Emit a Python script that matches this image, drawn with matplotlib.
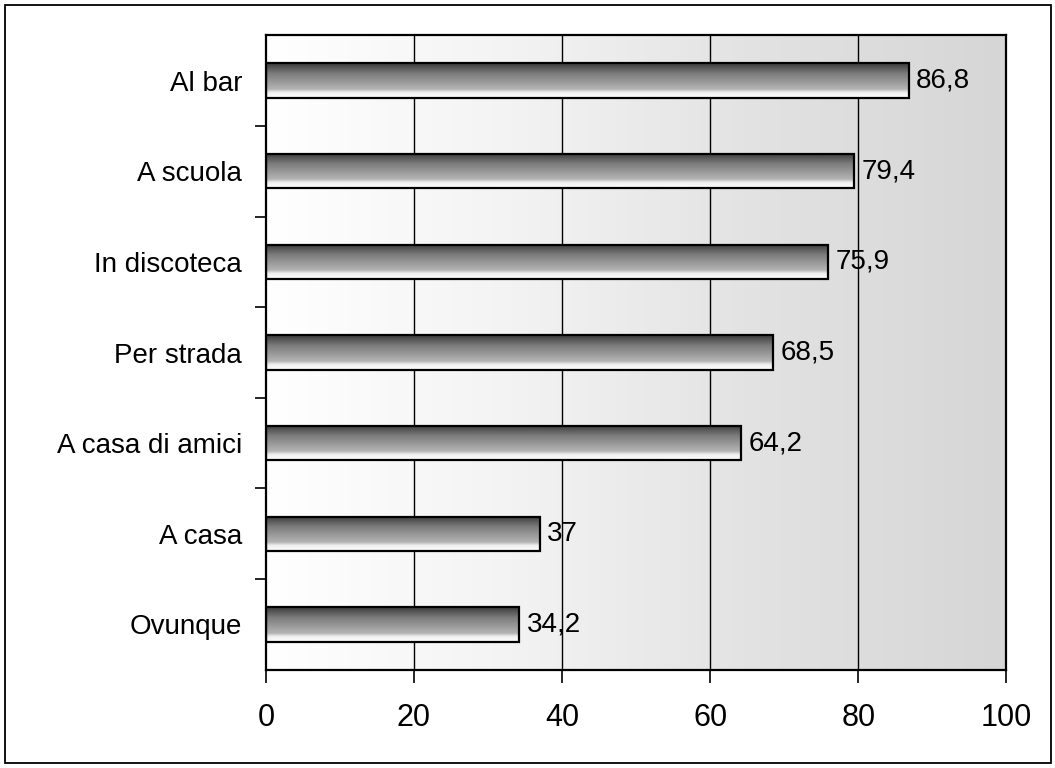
import matplotlib
matplotlib.use('Agg')
import matplotlib.pyplot as plt
from matplotlib.patches import Rectangle
from matplotlib.colors import LinearSegmentedColormap
import numpy as np

plt.rcParams['font.family'] = ['Liberation Sans', 'DejaVu Sans']

# Luoghi e percentuali
luoghi = ['Al bar', 'A scuola', 'In discoteca', 'Per strada',
          'A casa di amici', 'A casa', 'Ovunque']
valori = [86.8, 79.4, 75.9, 68.5, 64.2, 37, 34.2]
etichette = ['86,8', '79,4', '75,9', '68,5', '64,2', '37', '34,2']
tick_x = [0, 20, 40, 60, 80, 100]

fig = plt.figure(figsize=(10.55, 7.68), dpi=100)
ax = fig.add_axes([0.252, 0.128, 0.702, 0.826])

# cornice esterna
fig.patches.append(Rectangle((0.005, 0.006), 0.991, 0.988, transform=fig.transFigure,
                             fill=False, edgecolor='black', linewidth=1.3))

y = np.arange(len(luoghi))[::-1]

# sfondo puntinato: da bianco a grigio chiaro verso destra
sfondo = LinearSegmentedColormap.from_list('sf', ['#ffffff', '#f3f3f3', '#e2e2e2', '#d6d6d6'])
ax.imshow(np.linspace(0, 1, 256).reshape(1, -1), cmap=sfondo, aspect='auto',
          extent=[0, 100, -0.5, len(luoghi) - 0.5], zorder=0, interpolation='bicubic')

for g in tick_x[1:-1]:
    ax.axvline(g, color='black', linewidth=1.0, zorder=1)

barre = ax.barh(y, valori, height=0.38, facecolor='none', edgecolor='black',
                linewidth=1.6, zorder=3)

# riempimento sfumato delle barre (scuro in alto, chiaro in basso)
sfum = LinearSegmentedColormap.from_list(
    'br', [(0, '#3c3c3c'), (0.3, '#7c7c7c'), (0.75, '#b4b4b4'), (0.85, '#f0f0f0'), (1, '#ffffff')])
for b in barre:
    x0, y0, w, h = b.get_x(), b.get_y(), b.get_width(), b.get_height()
    im = ax.imshow(np.linspace(0, 1, 64).reshape(-1, 1), cmap=sfum, aspect='auto',
                   extent=[x0, x0 + w, y0, y0 + h], origin='upper', zorder=2)
    im.set_clip_path(b)

for b, t in zip(barre, etichette):
    ax.text(b.get_width() + 1.0, b.get_y() + b.get_height() / 2, t,
            va='center', ha='left', fontsize=20, zorder=4)

ax.set_xlim(0, 100)
ax.set_ylim(-0.5, len(luoghi) - 0.5)
ax.set_xticks(tick_x)
ax.set_xticklabels([str(v) for v in tick_x], fontsize=22)
ax.tick_params(axis='x', direction='out', length=9, width=1.2, pad=15)

ax.set_yticks(y)
ax.set_yticklabels(luoghi, fontsize=20)
ax.set_yticks(np.arange(len(luoghi) - 1) + 0.5, minor=True)
ax.tick_params(axis='y', which='major', length=0, pad=17)
ax.tick_params(axis='y', which='minor', direction='out', length=8, width=1.2)

for s in ax.spines.values():
    s.set_linewidth(1.6)

plt.savefig('out.png', dpi=100)
